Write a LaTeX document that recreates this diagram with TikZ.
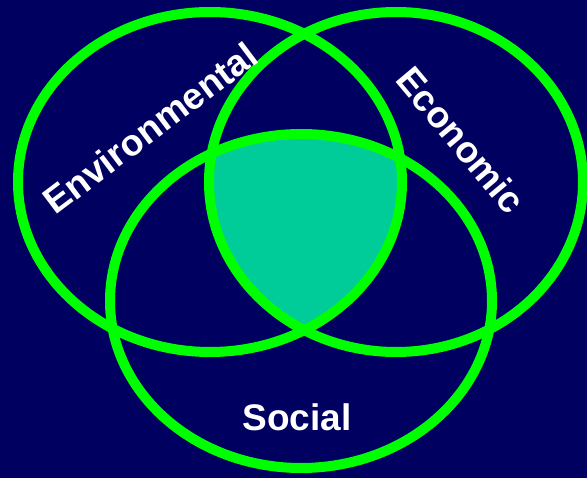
\documentclass[tikz,border=0pt]{standalone}
\usepackage{fontspec}
\setmainfont{Liberation Sans}
\definecolor{navy}{RGB}{0,0,96}
\definecolor{ringgreen}{RGB}{0,255,0}
\definecolor{coreteal}{RGB}{0,204,153}
\begin{document}
\begin{tikzpicture}[x=1pt,y=-1pt,
    ring/.style={draw=ringgreen, line width=10pt},
    sector/.style={text=white, inner sep=0pt, font=\bfseries\fontsize{37}{40}\selectfont}]
  \fill[navy] (0,0) rectangle (587,478);
  \useasboundingbox (0,0) rectangle (587,478);
  % the three circles
  \coordinate (env) at (210,182);
  \coordinate (eco) at (396,182);
  \coordinate (soc) at (301,301);
  \begin{scope}
    \clip (env) ellipse (192pt and 170pt);
    \clip (eco) ellipse (187pt and 170pt);
    \fill[coreteal] (soc) ellipse (191pt and 167pt);
  \end{scope}
  \draw[ring] (env) ellipse (192pt and 170pt);
  \draw[ring] (eco) ellipse (187pt and 170pt);
  \draw[ring] (soc) ellipse (191pt and 167pt);
  % labels
  \node[sector, rotate=37] (envtext) at (150,128) {Environmental};
  \node[sector, rotate=-50] (ecotext) at (461,140) {Economic};
  \node[sector] (soctext) at (297,417) {Social};
\end{tikzpicture}
\end{document}
